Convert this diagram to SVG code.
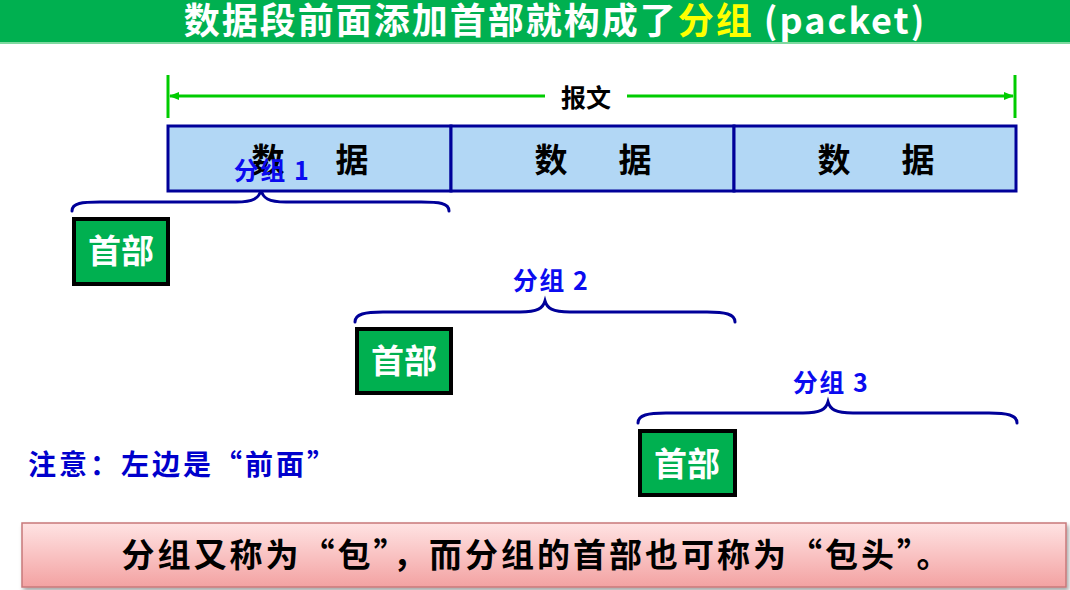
<svg xmlns="http://www.w3.org/2000/svg" width="1070" height="590" viewBox="0 0 1070 590">
<defs>
<style>
.cjk{font-family:"Noto Sans CJK SC","Noto Sans",sans-serif;font-weight:bold}
.data{fill:#B2D7F5;stroke:#000099;stroke-width:3}
.dt{font-size:33px;fill:#000;text-anchor:middle}
.hdr{fill:#00B050;stroke:#000;stroke-width:4}
.ht{font-size:33px;fill:#fff;text-anchor:middle}
.brace{fill:none;stroke:#000099;stroke-width:3;stroke-linecap:round}
.pl{font-size:25px;fill:#0B0BF0;text-anchor:middle;letter-spacing:1.5px}
.g{stroke:#00CC00;stroke-width:3;fill:none}
</style>
<marker id="ah" markerWidth="10" markerHeight="8" refX="9" refY="4" orient="auto-start-reverse" markerUnits="userSpaceOnUse">
<path d="M0,0 L10,4 L0,8 Z" fill="#00CC00"/>
</marker>
<linearGradient id="pink" x1="0" y1="0" x2="0" y2="1">
<stop offset="0" stop-color="#FFE3E3"/>
<stop offset="1" stop-color="#F3A2A2"/>
</linearGradient>
<filter id="sh" x="-5%" y="-20%" width="110%" height="150%">
<feDropShadow dx="2" dy="3" stdDeviation="2" flood-color="#000" flood-opacity="0.35"/>
</filter>
</defs>
<rect width="1070" height="590" fill="#fff"/>
<g id="title">
<rect x="0" y="0" width="1070" height="42" fill="#00B050"/>
<rect x="0" y="42" width="1070" height="2" fill="#7FD9A0"/>
<text class="cjk" x="555" y="34" font-size="36" letter-spacing="2" fill="#fff" text-anchor="middle">数据段前面添加首部就构成了<tspan fill="#FFFF00">分组</tspan> (packet)</text>
</g>
<g id="connectors">
<line class="g" x1="168" y1="75" x2="168" y2="118"/>
<line class="g" x1="1015" y1="75" x2="1015" y2="118"/>
<line class="g" x1="545" y1="96" x2="170" y2="96" marker-end="url(#ah)"/>
<line class="g" x1="627" y1="96" x2="1013" y2="96" marker-end="url(#ah)"/>
<path class="brace" d="M72,211 C72,203 82,202 100,202 L236,202 C254,202 259,198 261,190 C263,198 268,202 286,202 L421,202 C439,202 449,203 449,211"/>
<path class="brace" d="M355,322 C355,314 365,312 383,312 L520,312 C538,312 543,308 545,301 C547,308 552,312 570,312 L707,312 C725,312 735,314 735,322"/>
<path class="brace" d="M638,423 C638,415 648,413 666,413 L803,413 C821,413 826,409 828,402 C830,409 835,413 853,413 L989,413 C1007,413 1017,415 1017,423"/>
</g>
<g id="baowen">
<text class="cjk" x="586" y="107" font-size="25" fill="#000" text-anchor="middle">报文</text>
</g>
<g id="data1">
<rect class="data" x="168" y="126" width="283" height="65"/>
<text class="cjk dt" x="268" y="172">数</text>
<text class="cjk dt" x="352" y="172">据</text>
</g>
<g id="data2">
<rect class="data" x="451" y="126" width="283" height="65"/>
<text class="cjk dt" x="551" y="172">数</text>
<text class="cjk dt" x="635" y="172">据</text>
</g>
<g id="data3">
<rect class="data" x="734" y="126" width="282" height="65"/>
<text class="cjk dt" x="834" y="172">数</text>
<text class="cjk dt" x="918" y="172">据</text>
</g>
<g id="packet1">
<text class="cjk pl" x="272" y="180">分组 1</text>
<rect class="hdr" x="74" y="219" width="94" height="65"/>
<text class="cjk ht" x="121" y="263">首部</text>
</g>
<g id="packet2">
<text class="cjk pl" x="551" y="290">分组 2</text>
<rect class="hdr" x="357" y="329" width="94" height="64"/>
<text class="cjk ht" x="404" y="373">首部</text>
</g>
<g id="packet3">
<text class="cjk pl" x="831" y="392">分组 3</text>
<rect class="hdr" x="640" y="431" width="95" height="64"/>
<text class="cjk ht" x="687" y="476">首部</text>
</g>
<g id="note">
<text class="cjk" x="28" y="475" font-size="28" letter-spacing="3" fill="#0000CC">注意：左边是“前面”</text>
</g>
<g id="summary">
<rect x="22" y="523" width="1044" height="64" fill="url(#pink)" stroke="#C8787A" stroke-width="1.5" filter="url(#sh)"/>
<text class="cjk" x="537" y="567" font-size="33" letter-spacing="3" fill="#000" text-anchor="middle">分组又称为“包”，而分组的首部也可称为“包头”。</text>
</g>
</svg>
